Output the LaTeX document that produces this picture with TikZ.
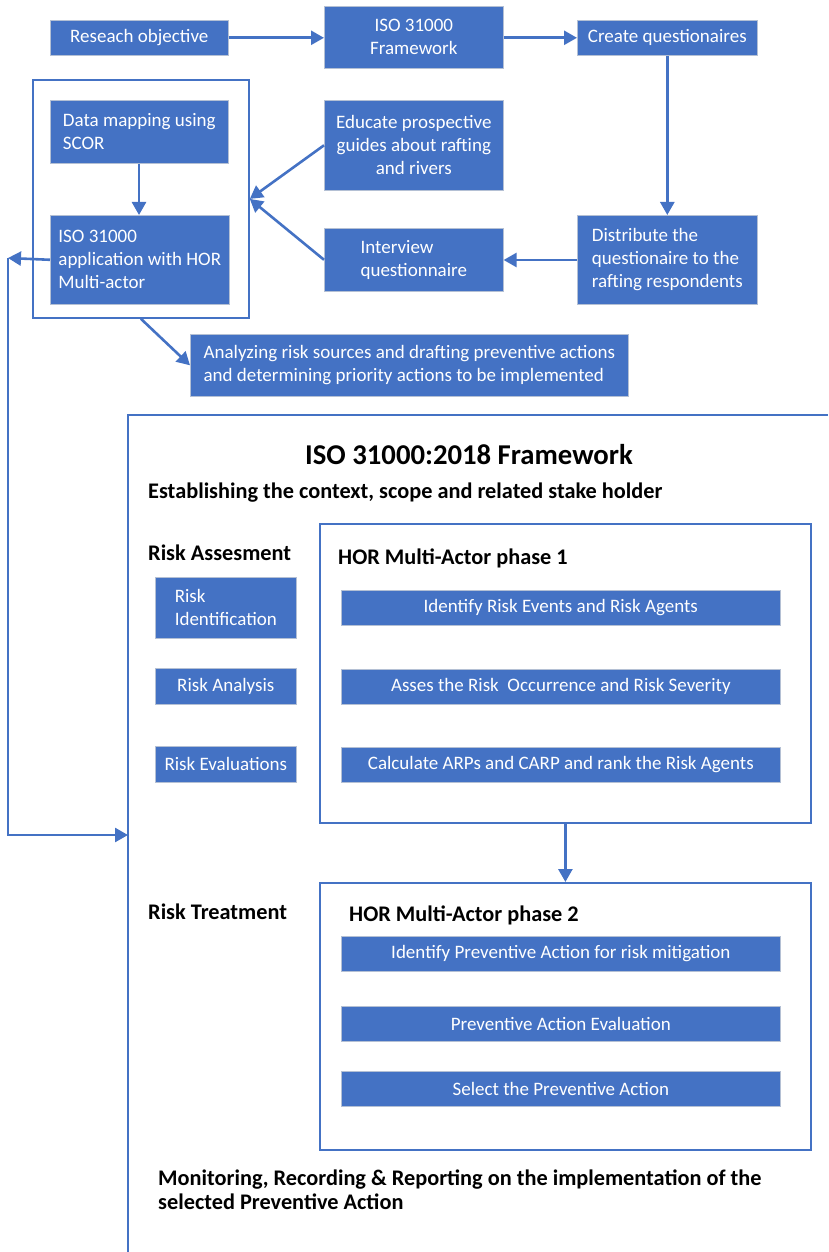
\documentclass[tikz,border=0pt]{standalone}
\usepackage{fontspec}
\setmainfont{Carlito}
\usetikzlibrary{arrows.meta}
\definecolor{blueF}{HTML}{4472C4}
\definecolor{edgeG}{HTML}{B4C0D4}
\begin{document}
\begin{tikzpicture}[x=1pt,y=-1pt,
  box/.style={fill=blueF, draw=edgeG, line width=0.6pt, text=white,
    font=\fontsize{19}{23}\selectfont, inner sep=0pt, anchor=north west, align=left},
  cbox/.style={box, align=center},
  frame/.style={draw=blueF, line width=1.8pt},
  arr/.style={draw=blueF, line width=2.6pt, -{Triangle[length=13pt,width=14pt]}},
  bold/.style={font=\bfseries\fontsize{22.3}{24}\selectfont, anchor=base west, inner sep=0pt}
]
\useasboundingbox (0,0) rectangle (828,1252);

% top section
\node[cbox, minimum width=178, minimum height=35] (ro) at (50,20) {Reseach objective};
\node[cbox, minimum width=179, minimum height=62] (iso) at (324,6) {ISO 31000\\Framework};
\node[cbox, minimum width=180, minimum height=35] (cq) at (577,20) {Create questionaires};
\node[frame, anchor=north west, minimum width=216, minimum height=238, inner sep=0pt] (fr) at (32,79) {};
\node[box, minimum width=178, minimum height=63] (dm) at (50,100) {Data mapping using\\SCOR};
\node[box, minimum width=179, minimum height=89] (ia) at (50,215) {ISO 31000\\application with HOR\\Multi-actor};
\node[cbox, minimum width=179, minimum height=90] (ed) at (324,100) {Educate prospective\\guides about rafting\\and rivers};
\node[box, minimum width=179, minimum height=63] (iq) at (324,228) {Interview\\questionnaire};
\node[box, minimum width=180, minimum height=89] (dq) at (577,215) {Distribute the\\questionaire to the\\rafting respondents};
\node[box, minimum width=438, minimum height=62] (an) at (190,334) {Analyzing risk sources and drafting preventive actions\\and determining priority actions to be implemented};

\draw[arr] (ro) -- (iso.west |- ro);
\draw[arr] (iso.east |- ro) -- (cq);
\draw[arr] (cq) -- (dq);
\draw[arr] (dq.west |- 0,260) -- (iq.east |- 0,260);
\draw[arr] (ed.west) -- (fr.east);
\draw[arr] (iq.west) -- (fr.east);
\draw[arr] (dm.south -| 139,0) -- (ia.north -| 139,0);
\draw[arr] (fr.south) -- (an.west);

\coordinate (cl) at (8,258);
\coordinate (bl) at (128,835);
\draw[arr] (ia.west) -- (cl);
\draw[arr] (cl) |- (bl);

% big framework frame (open to the right and bottom)
\coordinate (bft) at (128,415);
\draw[frame] (128,1252) -- (bft) -- (828,415);

\node[font=\bfseries\fontsize{28.7}{32}\selectfont, anchor=base, inner sep=0pt] (tt) at (469,464) {ISO 31000:2018 Framework};
\node[bold] (est) at (148,498) {Establishing the context, scope and related stake holder};
\node[bold] (ra) at (148,560) {Risk Assesment};
\node[bold] (rt) at (148,919) {Risk Treatment};

\node[box, minimum width=141, minimum height=61] (ri) at (155,577) {Risk\\Identification};
\node[cbox, minimum width=141, minimum height=36] (ran) at (155,668) {Risk Analysis};
\node[cbox, minimum width=141, minimum height=36] (rev) at (155,746) {Risk Evaluations};

\node[frame, anchor=north west, minimum width=491, minimum height=299, inner sep=0pt] (p1) at (319,523) {};
\node[bold] (p1t) at (338,564) {HOR Multi-Actor phase 1};
\node[cbox, minimum width=439, minimum height=35] (b1) at (341,590) {Identify Risk Events and Risk Agents};
\node[cbox, minimum width=439, minimum height=35] (b2) at (341,669) {Asses the Risk\ \ Occurrence and Risk Severity};
\node[cbox, minimum width=439, minimum height=35] (b3) at (341,747) {Calculate ARPs and CARP and rank the Risk Agents};

\node[frame, anchor=north west, minimum width=491, minimum height=267, inner sep=0pt] (p2) at (319,882) {};
\draw[arr] (p1.south) -- (p2.north);
\node[bold] (p2t) at (349,921) {HOR Multi-Actor phase 2};
\node[cbox, minimum width=439, minimum height=35] (c1) at (341,936) {Identify Preventive Action for risk mitigation};
\node[cbox, minimum width=439, minimum height=35] (c2) at (341,1006) {Preventive Action Evaluation};
\node[cbox, minimum width=439, minimum height=35] (c3) at (341,1071) {Select the Preventive Action};

\node[bold, align=left, anchor=north west, font=\bfseries\fontsize{22.3}{24}\selectfont] (mon) at (158,1170) {Monitoring, Recording \& Reporting on the implementation of the\\selected Preventive Action};
\end{tikzpicture}
\end{document}
